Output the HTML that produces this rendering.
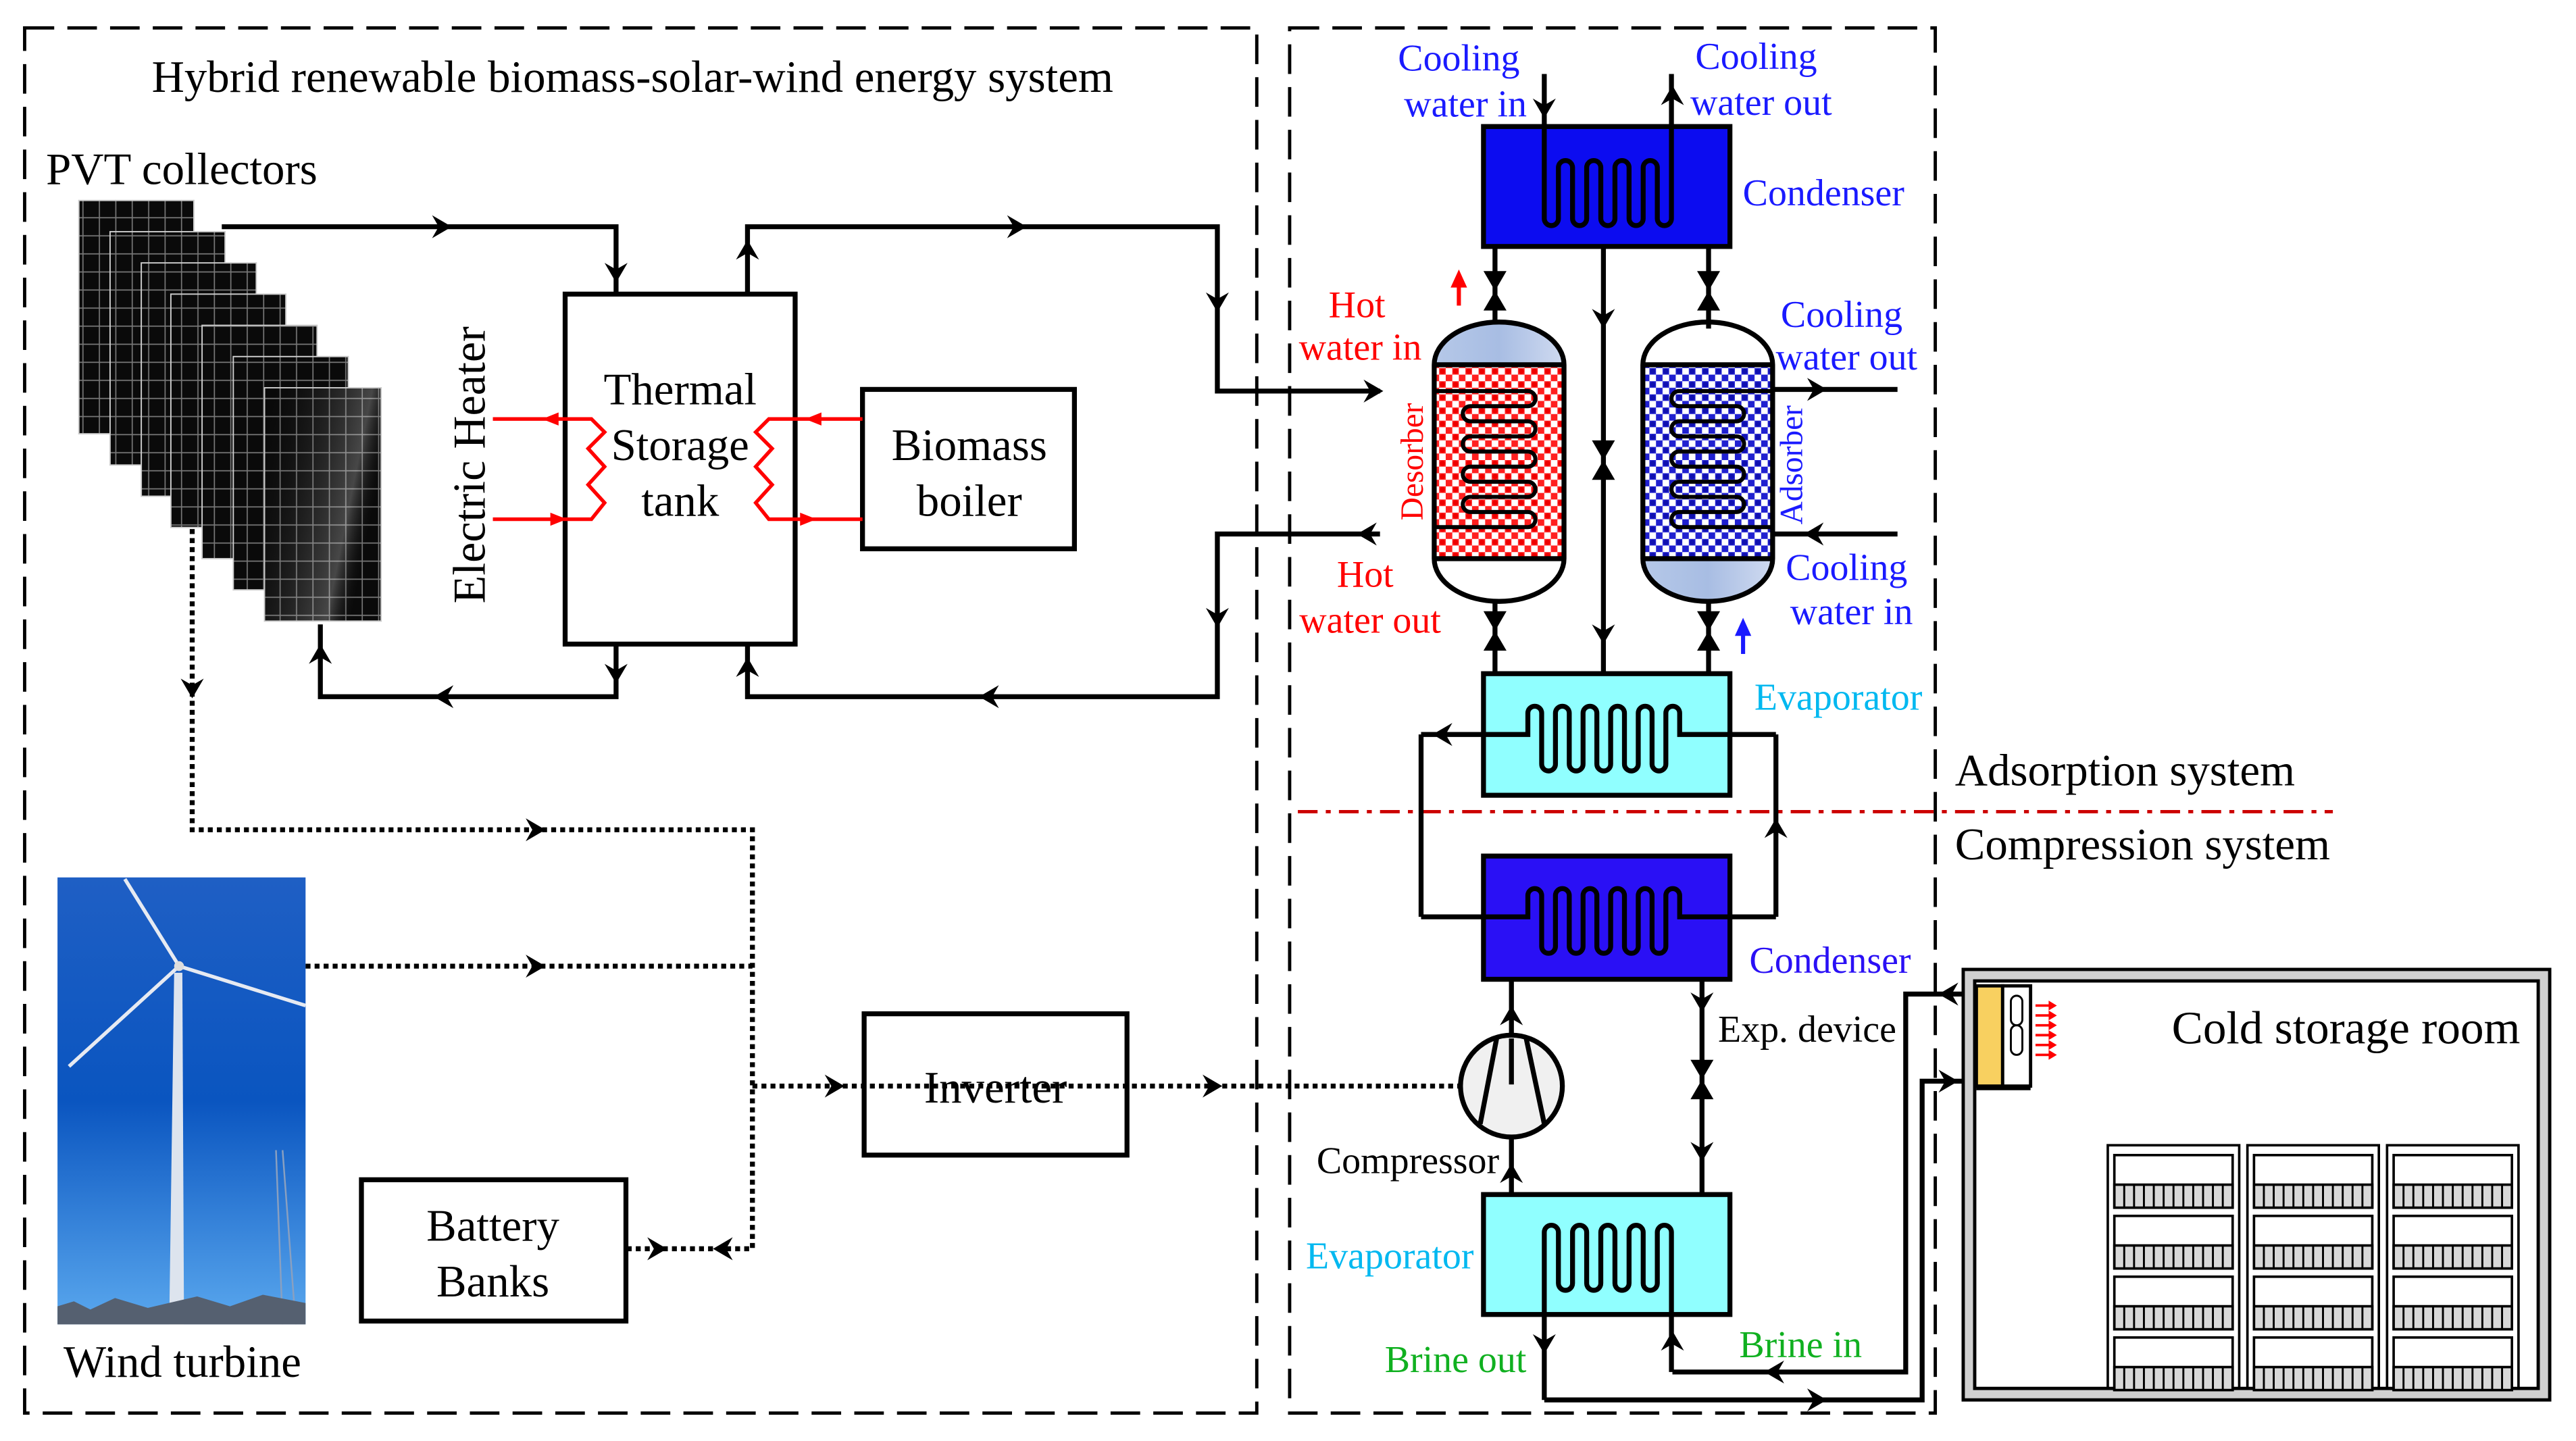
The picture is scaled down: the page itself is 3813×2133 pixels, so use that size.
<!DOCTYPE html>
<html><head><meta charset="utf-8"><style>
html,body{margin:0;padding:0;background:#fff}
svg{display:block}
text{font-family:"Liberation Serif",serif}
</style></head><body>
<svg width="3813" height="2133" viewBox="0 0 1568 877" preserveAspectRatio="none" xmlns="http://www.w3.org/2000/svg">
<defs>
<path id="ah" d="M0,0 L-12,-7 L-8,0 L-12,7 Z" fill="#000"/>
<pattern id="grid" width="10" height="11" patternUnits="userSpaceOnUse">
<rect width="10" height="11" fill="#0a0a0a"/><path d="M0,0.5H10M0.5,0V11" stroke="#777" stroke-width="0.7"/>
</pattern>
<linearGradient id="pvsh" x1="0" y1="0" x2="1" y2="0.4"><stop offset="0" stop-color="#000" stop-opacity="0"/><stop offset="0.8" stop-color="#fff" stop-opacity="0.25"/><stop offset="1" stop-color="#000" stop-opacity="0"/></linearGradient>
<pattern id="redchk" width="8" height="8" patternUnits="userSpaceOnUse">
<rect width="8" height="8" fill="#ff2020"/><rect width="4" height="4" fill="#fff"/><rect x="4" y="4" width="4" height="4" fill="#fff"/><circle cx="6" cy="2" r="1.6" fill="#e00"/>
</pattern>
<pattern id="bluechk" width="8" height="8" patternUnits="userSpaceOnUse">
<rect width="8" height="8" fill="#2020d0"/><rect width="4" height="4" fill="#fff"/><rect x="4" y="4" width="4" height="4" fill="#fff"/><circle cx="6" cy="2" r="1.6" fill="#1010b0"/>
</pattern>
<linearGradient id="sky" x1="0" y1="0" x2="0" y2="1"><stop offset="0" stop-color="#1f5fc4"/><stop offset="0.5" stop-color="#0a55c0"/><stop offset="1" stop-color="#5aa8ee"/></linearGradient>
<linearGradient id="cap" x1="0" y1="0" x2="1" y2="0"><stop offset="0" stop-color="#b5c8e8"/><stop offset="0.5" stop-color="#a8bde3"/><stop offset="1" stop-color="#cfdaf0"/></linearGradient>
<g id="vv"><polygon points="-7,-12 7,-12 0,0" fill="#000"/><polygon points="-7,12 7,12 0,0" fill="#000"/></g>
<g id="crate"><rect x="0" y="0" width="72" height="32" fill="#fff" stroke="#000" stroke-width="1.5"/><rect x="0" y="18" width="72" height="14" fill="#d8d8d8" stroke="#000" stroke-width="1.5"/>
<path d="M6,18V32M12,18V32M18,18V32M24,18V32M30,18V32M36,18V32M42,18V32M48,18V32M54,18V32M60,18V32M66,18V32" stroke="#000" stroke-width="1.2"/></g>
</defs>

<rect x="15" y="17" width="750" height="843" fill="none" stroke="#000" stroke-width="2" stroke-dasharray="18,8"/>
<rect x="785" y="17" width="393" height="843" fill="none" stroke="#000" stroke-width="2" stroke-dasharray="18,8"/>
<text x="385" y="56" font-size="27.5" text-anchor="middle">Hybrid renewable biomass-solar-wind energy system</text>
<text x="28" y="112" font-size="27.5">PVT collectors</text>

<g stroke="#ccc" stroke-width="0.8">
<rect x="48" y="122" width="70" height="142" fill="url(#grid)"/>
<rect x="67" y="141" width="70" height="142" fill="url(#grid)"/>
<rect x="86" y="160" width="70" height="142" fill="url(#grid)"/>
<rect x="104" y="179" width="70" height="142" fill="url(#grid)"/>
<rect x="123" y="198" width="70" height="142" fill="url(#grid)"/>
<rect x="142" y="217" width="70" height="142" fill="url(#grid)"/>
<rect x="161" y="236" width="71" height="142" fill="url(#grid)"/>
</g>
<rect x="161" y="236" width="71" height="142" fill="url(#pvsh)"/>

<g fill="none" stroke="#000" stroke-width="3">
<path d="M135,138 H375 V179"/>
<path d="M455,179 V138 H741 V238 H840"/>
<path d="M840,325 H741 V424 H455 V392"/>
<path d="M375,392 V424 H195 V380"/>
<rect x="344" y="179" width="140" height="213"/>
<rect x="525" y="237" width="129" height="97"/>
</g>
<use href="#ah" transform="translate(275,138)"/>
<use href="#ah" transform="translate(375,172) rotate(90)"/>
<use href="#ah" transform="translate(455,146) rotate(-90)"/>
<use href="#ah" transform="translate(625,138)"/>
<use href="#ah" transform="translate(741,190) rotate(90)"/>
<use href="#ah" transform="translate(842,238)"/>
<use href="#ah" transform="translate(826,325) rotate(180)"/>
<use href="#ah" transform="translate(741,382) rotate(90)"/>
<use href="#ah" transform="translate(596,424) rotate(180)"/>
<use href="#ah" transform="translate(455,400) rotate(-90)"/>
<use href="#ah" transform="translate(375,416) rotate(90)"/>
<use href="#ah" transform="translate(264,424) rotate(180)"/>
<use href="#ah" transform="translate(195,392) rotate(-90)"/>

<text x="414" y="246" font-size="27.5" text-anchor="middle">Thermal</text>
<text x="414" y="280" font-size="27.5" text-anchor="middle">Storage</text>
<text x="414" y="314" font-size="27.5" text-anchor="middle">tank</text>
<text x="590" y="280" font-size="27.5" text-anchor="middle">Biomass</text>
<text x="590" y="314" font-size="27.5" text-anchor="middle">boiler</text>
<text transform="translate(295,283) rotate(-90)" font-size="28" text-anchor="middle">Electric Heater</text>

<g fill="none" stroke="#f00" stroke-width="2.2">
<path d="M300,255 H360 L368,263 L358,273 L368,284 L358,295 L368,306 L360,316 H300"/>
<path d="M525,255 H468 L460,263 L470,273 L460,284 L470,295 L460,306 L468,316 H525"/>
</g>
<polygon points="330,255 340,251 340,259" fill="#f00"/>
<polygon points="345,316 335,312 335,320" fill="#f00"/>
<polygon points="490,255 500,251 500,259" fill="#f00"/>
<polygon points="497,316 487,312 487,320" fill="#f00"/>

<rect x="35" y="534" width="151" height="272" fill="url(#sky)"/>
<path d="M168,700 L172,806 M172,700 L180,806" stroke="#8aa0c0" stroke-width="1"/>
<polygon points="106,592 111,592 112,806 103,806" fill="#dde4ee"/>
<g stroke="#e6eaf2" stroke-width="2.2" fill="none"><path d="M109,588 L76,535"/><path d="M109,588 L42,649"/><path d="M109,588 L186,612"/></g>
<circle cx="109" cy="588" r="3" fill="#ddd"/>
<path d="M35,806 V795 L45,792 L55,797 L70,790 L90,796 L120,789 L140,795 L160,788 L186,793 V806Z" fill="#556070"/>
<text x="111" y="838" font-size="27.5" text-anchor="middle">Wind turbine</text>

<g fill="none" stroke="#000" stroke-width="3" stroke-dasharray="3,2.5">
<path d="M117,322 V505 H458 V760 H381"/>
<path d="M186,588 H458"/>
<path d="M458,661 H888"/>
</g>
<use href="#ah" transform="translate(117,425) rotate(90)"/>
<use href="#ah" transform="translate(332,505)"/>
<use href="#ah" transform="translate(332,588)"/>
<use href="#ah" transform="translate(514,661)"/>
<use href="#ah" transform="translate(744,661)"/>
<use href="#ah" transform="translate(406,760)"/>
<use href="#ah" transform="translate(434,760) rotate(180)"/>
<rect x="526" y="617" width="160" height="86" fill="none" stroke="#000" stroke-width="3"/>
<text x="606" y="671" font-size="27.5" text-anchor="middle">Inverter</text>
<rect x="220" y="718" width="161" height="86" fill="none" stroke="#000" stroke-width="3"/>
<text x="300" y="755" font-size="27.5" text-anchor="middle">Battery</text>
<text x="300" y="789" font-size="27.5" text-anchor="middle">Banks</text>

<rect x="903" y="77" width="150" height="73" fill="#0c0cf0" stroke="#000" stroke-width="3"/>
<path d="M940,45 V133 a4.3,4.3 0 0 0 8.6,0 V102 a4.3,4.3 0 0 1 8.6,0 V133 a4.3,4.3 0 0 0 8.6,0 V102 a4.3,4.3 0 0 1 8.6,0 V133 a4.3,4.3 0 0 0 8.6,0 V102 a4.3,4.3 0 0 1 8.6,0 V133 a4.3,4.3 0 0 0 8.6,0 V102 a4.3,4.3 0 0 1 8.6,0 V133 a4.3,4.3 0 0 0 8.6,0 V45" fill="none" stroke="#000" stroke-width="3"/>
<use href="#ah" transform="translate(940,72) rotate(90)"/>
<use href="#ah" transform="translate(1018,52) rotate(-90)"/>
<g fill="#1a1aff" font-size="23">
<text x="888" y="43" text-anchor="middle">Cooling</text>
<text x="892" y="71" text-anchor="middle">water in</text>
<text x="1069" y="42" text-anchor="middle">Cooling</text>
<text x="1072" y="70" text-anchor="middle">water out</text>
<text x="1110" y="125" text-anchor="middle">Condenser</text>
<text x="1121" y="199" text-anchor="middle">Cooling</text>
<text x="1124" y="225" text-anchor="middle">water out</text>
<text x="1124" y="353" text-anchor="middle">Cooling</text>
<text x="1127" y="380" text-anchor="middle">water in</text>
<text transform="translate(1097,283) rotate(-90)" font-size="19.5" text-anchor="middle">Adsorber</text>
</g>
<g fill="#f00" font-size="23">
<text x="826" y="193" text-anchor="middle">Hot</text>
<text x="828" y="219" text-anchor="middle">water in</text>
<text x="831" y="357" text-anchor="middle">Hot</text>
<text x="834" y="385" text-anchor="middle">water out</text>
<text transform="translate(866,281) rotate(-90)" font-size="19.5" text-anchor="middle">Desorber</text>
</g>
<path d="M888,186 V168" stroke="#f00" stroke-width="2.5"/><polygon points="888,164 883,175 893,175" fill="#f00"/>
<path d="M1061,398 V380" stroke="#1a1aff" stroke-width="2.5"/><polygon points="1061,376 1056,387 1066,387" fill="#1a1aff"/>

<g stroke="#000" stroke-width="3" fill="none">
<path d="M910,150 V200"/><path d="M1040,150 V200"/>
<path d="M976,150 V410"/>
<path d="M910,365 V410"/><path d="M1040,365 V410"/>
<path d="M910,410 H1040"/>
</g>
<use href="#vv" transform="translate(910,177)"/>
<use href="#vv" transform="translate(1040,177)"/>
<use href="#vv" transform="translate(976,280)"/>
<use href="#vv" transform="translate(910,384)"/>
<use href="#vv" transform="translate(1040,384)"/>
<use href="#ah" transform="translate(976,200) rotate(90)"/>
<use href="#ah" transform="translate(976,392) rotate(90)"/>

<path d="M873,222 A39.5,26 0 0 1 952,222 Z" fill="url(#cap)"/>
<path d="M1000,340 A39.5,26 0 0 0 1079,340 Z" fill="url(#cap)"/>
<rect x="873" y="222" width="79" height="118" fill="url(#redchk)"/>
<rect x="1000" y="222" width="79" height="118" fill="url(#bluechk)"/>
<g fill="none" stroke="#000" stroke-width="3">
<path d="M873,222 A39.5,26 0 0 1 952,222 V340 A39.5,26 0 0 1 873,340 Z"/>
<path d="M1000,222 A39.5,26 0 0 1 1079,222 V340 A39.5,26 0 0 1 1000,340 Z"/>
<path d="M873,222 H952 M873,340 H952 M1000,222 H1079 M1000,340 H1079"/>
</g>
<g fill="none" stroke="#000" stroke-width="2.5">
<path d="M873,238 H930 a4.6,4.6 0 0 1 0,9.2 H895 a4.6,4.6 0 0 0 0,9.2 H930 a4.6,4.6 0 0 1 0,9.2 H895 a4.6,4.6 0 0 0 0,9.2 H930 a4.6,4.6 0 0 1 0,9.2 H895 a4.6,4.6 0 0 0 0,9.2 H930 a4.6,4.6 0 0 1 0,9.2 H895 a4.6,4.6 0 0 0 0,9.2 H930 a4.6,4.6 0 0 1 0,9.2 H873"/>
<path d="M1079,238 H1022 a4.6,4.6 0 0 0 0,9.2 H1057 a4.6,4.6 0 0 1 0,9.2 H1022 a4.6,4.6 0 0 0 0,9.2 H1057 a4.6,4.6 0 0 1 0,9.2 H1022 a4.6,4.6 0 0 0 0,9.2 H1057 a4.6,4.6 0 0 1 0,9.2 H1022 a4.6,4.6 0 0 0 0,9.2 H1057 a4.6,4.6 0 0 1 0,9.2 H1022 a4.6,4.6 0 0 0 0,9.2 H1079"/>
</g>
<g stroke="#000" stroke-width="3"><path d="M1079,237 H1155"/><path d="M1079,325 H1155"/></g>
<use href="#ah" transform="translate(1112,237)"/>
<use href="#ah" transform="translate(1098,325) rotate(180)"/>

<rect x="903" y="410" width="150" height="74" fill="#90ffff" stroke="#000" stroke-width="3"/>
<path id="hxc" d="M865,447 H930 V434 a4.2,4.2 0 0 1 8.4,0 V465 a4.2,4.2 0 0 0 8.4,0 V434 a4.2,4.2 0 0 1 8.4,0 V465 a4.2,4.2 0 0 0 8.4,0 V434 a4.2,4.2 0 0 1 8.4,0 V465 a4.2,4.2 0 0 0 8.4,0 V434 a4.2,4.2 0 0 1 8.4,0 V465 a4.2,4.2 0 0 0 8.4,0 V434 a4.2,4.2 0 0 1 8.4,0 V465 a4.2,4.2 0 0 0 8.4,0 V434 a4.2,4.2 0 0 1 8.4,0 V447 H1081" fill="none" stroke="#000" stroke-width="3"/>
<text x="1119" y="432" font-size="23" fill="#00b8f0" text-anchor="middle">Evaporator</text>

<path d="M790,494 H1420" stroke="#c00" stroke-width="2" stroke-dasharray="12,5,3,5"/>
<text x="1190" y="478" font-size="27.5">Adsorption system</text>
<text x="1190" y="523" font-size="27.5">Compression system</text>

<rect x="903" y="521" width="150" height="75" fill="#2a10f5" stroke="#000" stroke-width="3"/>
<use href="#hxc" transform="translate(0,111)"/>
<g stroke="#000" stroke-width="3" fill="none"><path d="M865,447 V558"/><path d="M1081,447 V558"/></g>
<use href="#ah" transform="translate(872,447) rotate(180)"/>
<use href="#ah" transform="translate(1081,498) rotate(-90)"/>
<text x="1114" y="592" font-size="23" fill="#2a10f5" text-anchor="middle">Condenser</text>

<g stroke="#000" stroke-width="3" fill="none">
<path d="M920,596 V660"/><path d="M920,692 V727"/>
<path d="M1036,596 V727"/>
</g>
<ellipse cx="920" cy="661" rx="31" ry="31" fill="#f0f0f0" stroke="#000" stroke-width="3"/>
<path d="M920,660 V632 M911,632 L901,684 M929,632 L940,684" stroke="#000" stroke-width="3" fill="none"/>
<use href="#ah" transform="translate(920,612) rotate(-90)"/>
<use href="#ah" transform="translate(920,708) rotate(-90)"/>
<use href="#ah" transform="translate(1036,616) rotate(90)"/>
<use href="#ah" transform="translate(1036,707) rotate(90)"/>
<use href="#vv" transform="translate(1036,657)"/>
<text x="857" y="714" font-size="23" text-anchor="middle">Compressor</text>
<text x="1100" y="634" font-size="23" text-anchor="middle">Exp. device</text>

<rect x="903" y="727" width="150" height="73" fill="#90ffff" stroke="#000" stroke-width="3"/>
<path d="M940,852 V750 a4.3,4.3 0 0 1 8.6,0 V781 a4.3,4.3 0 0 0 8.6,0 V750 a4.3,4.3 0 0 1 8.6,0 V781 a4.3,4.3 0 0 0 8.6,0 V750 a4.3,4.3 0 0 1 8.6,0 V781 a4.3,4.3 0 0 0 8.6,0 V750 a4.3,4.3 0 0 1 8.6,0 V781 a4.3,4.3 0 0 0 8.6,0 V750 a4.3,4.3 0 0 1 8.6,0 V835" fill="none" stroke="#000" stroke-width="3"/>
<text x="846" y="772" font-size="23" fill="#00b8f0" text-anchor="middle">Evaporator</text>
<g stroke="#000" stroke-width="3" fill="none">
<path d="M940,852 H1170 V658 H1203"/>
<path d="M1018,835 H1160 V605 H1203"/>
</g>
<use href="#ah" transform="translate(940,824) rotate(90)"/>
<use href="#ah" transform="translate(1018,810) rotate(-90)"/>
<use href="#ah" transform="translate(1112,852)"/>
<use href="#ah" transform="translate(1074,835) rotate(180)"/>
<use href="#ah" transform="translate(1192,658)"/>
<use href="#ah" transform="translate(1180,605) rotate(180)"/>
<text x="886" y="835" font-size="23" fill="#10b020" text-anchor="middle">Brine out</text>
<text x="1096" y="826" font-size="23" fill="#10b020" text-anchor="middle">Brine in</text>

<rect x="1195" y="590" width="357" height="262" fill="#d0d0d0" stroke="#000" stroke-width="2"/>
<rect x="1202" y="597" width="343" height="248" fill="#fff" stroke="#000" stroke-width="2"/>
<rect x="1203" y="600" width="16" height="61" fill="#f8d060" stroke="#000" stroke-width="2"/>
<rect x="1219" y="600" width="17" height="61" fill="#fff" stroke="#000" stroke-width="2"/>
<path d="M1203,662 H1236" stroke="#000" stroke-width="3"/>
<rect x="1224" y="606" width="7" height="18" rx="3.5" fill="none" stroke="#000" stroke-width="1.2"/>
<rect x="1224" y="624" width="7" height="18" rx="3.5" fill="none" stroke="#000" stroke-width="1.2"/>
<g stroke="#f00" stroke-width="1.5"><path d="M1239,612H1250M1239,618H1250M1239,624H1250M1239,630H1250M1239,636H1250M1239,642H1250"/></g>
<g fill="#f00"><polygon points="1252,612 1247,609 1247,615"/><polygon points="1252,618 1247,615 1247,621"/><polygon points="1252,624 1247,621 1247,627"/><polygon points="1252,630 1247,627 1247,633"/><polygon points="1252,636 1247,633 1247,639"/><polygon points="1252,642 1247,639 1247,645"/></g>
<text x="1428" y="635" font-size="28.5" text-anchor="middle">Cold storage room</text>
<g fill="none" stroke="#000" stroke-width="1.5">
<rect x="1283" y="697" width="80" height="148"/><rect x="1368" y="697" width="80" height="148"/><rect x="1453" y="697" width="80" height="148"/>
</g>
<use href="#crate" transform="translate(1287,703)"/><use href="#crate" transform="translate(1287,740)"/><use href="#crate" transform="translate(1287,777)"/><use href="#crate" transform="translate(1287,814)"/>
<use href="#crate" transform="translate(1372,703)"/><use href="#crate" transform="translate(1372,740)"/><use href="#crate" transform="translate(1372,777)"/><use href="#crate" transform="translate(1372,814)"/>
<use href="#crate" transform="translate(1457,703)"/><use href="#crate" transform="translate(1457,740)"/><use href="#crate" transform="translate(1457,777)"/><use href="#crate" transform="translate(1457,814)"/>
</svg>
</body></html>
